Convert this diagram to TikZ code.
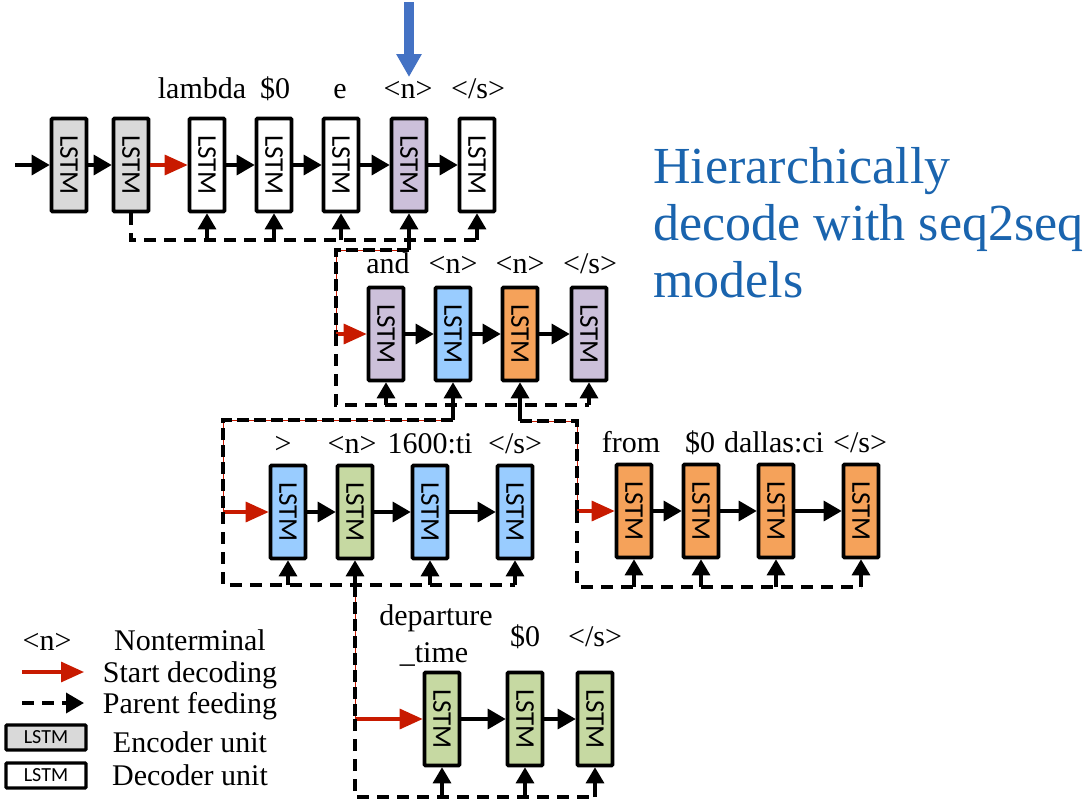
\documentclass[tikz,border=0pt]{standalone}
\usepackage{graphicx}
\usepackage{fontspec}
\setmainfont{Liberation Serif}
\newfontfamily\cellfont{Carlito}
\usetikzlibrary{arrows.meta}

\definecolor{encgray}{HTML}{D9D9D9}
\definecolor{ntpurple}{HTML}{CCC0DA}
\definecolor{ntblue}{HTML}{99CCFF}
\definecolor{ntorange}{HTML}{F5A25A}
\definecolor{ntgreen}{HTML}{C6D9A2}
\definecolor{startred}{HTML}{C81A00}
\definecolor{hintblue}{HTML}{4472C4}
\definecolor{titleblue}{HTML}{1A64AE}

\tikzset{
  cell/.style={draw=black, line width=3.6pt, fill=white, minimum width=35pt,
    minimum height=93pt, inner sep=0pt, rounded corners=1pt,
    font=\cellfont\fontsize{27}{27}\selectfont},
  legcell/.style={draw=black, line width=3.4pt, fill=white, minimum width=80pt,
    minimum height=25pt, inner sep=0pt, rounded corners=1pt,
    font=\cellfont\fontsize{20}{20}\selectfont},
  lab/.style={font=\fontsize{30}{34}\selectfont, inner sep=0pt, anchor=base},
  flow/.style={line width=3.2pt, -{Triangle[length=18pt,width=20pt]}},
  start/.style={draw=startred, line width=3.2pt,
    -{Triangle[length=23pt,width=20pt]}},
  feed/.style={line width=3.6pt, dash pattern=on 12pt off 8pt},
  up/.style={line width=3.2pt, -{Triangle[length=16pt,width=18pt]}},
  stripe/.style={line width=3.6pt, dash pattern=on 12pt off 5pt,
    preaction={draw=startred, solid}},
  hint/.style={draw=hintblue, line width=10pt,
    -{Triangle[length=23pt,width=24pt]}},
  title/.style={font=\fontsize{52}{57}\selectfont, text=titleblue,
    inner sep=0pt, anchor=base west},
}
\newcommand{\lstmv}{\rotatebox{-90}{LSTM}}

\begin{document}
\begin{tikzpicture}[x=1pt, y=-1pt]
\useasboundingbox (0,0) rectangle (1092,801);

% ---------- level 1: encoder + top-level decoder ----------
\node[cell, fill=encgray] (e1) at (69,165) {\lstmv};
\node[cell, fill=encgray] (e2) at (131,165) {\lstmv};
\node[cell] (d1) at (207,165) {\lstmv};
\node[cell] (d2) at (274,165) {\lstmv};
\node[cell] (d3) at (341,165) {\lstmv};
\node[cell, fill=ntpurple] (d4) at (409,165) {\lstmv};
\node[cell] (d5) at (477,165) {\lstmv};

\node[lab] (t11) at (202,98) {lambda};
\node[lab] (t12) at (275,98) {\$0};
\node[lab] (t13) at (340,98) {e};
\node[lab] (t14) at (408,98) {<n>};
\node[lab] (t15) at (478,98) {</s>};

\coordinate (in) at (15,165);
\draw[flow] (in) -- (e1);
\draw[flow] (e1) -- (e2);
\draw[start] (e2) -- (d1);
\draw[flow] (d1) -- (d2);
\draw[flow] (d2) -- (d3);
\draw[flow] (d3) -- (d4);
\draw[flow] (d4) -- (d5);

% hint arrow pointing at the expanded nonterminal
\coordinate (hs) at (409,2);
\coordinate (he) at (409,77);
\draw[hint] (hs) -- (he);

% parent feeding, level 1
\coordinate (f1a) at (131,240);
\coordinate (f1b) at (477,240);
\draw[feed] (e2.south) -- (f1a) -- (f1b);
\foreach \n in {d1,d2,d3,d5} \draw[up] (\n |- f1a) -- (\n.south);
\coordinate (k1) at (409,250);
\draw[up] (k1) -- (d4.south);

% ---------- level 2 ----------
\node[cell, fill=ntpurple] (a1) at (386,334) {\lstmv};
\node[cell, fill=ntblue] (a2) at (453,334) {\lstmv};
\node[cell, fill=ntorange] (a3) at (520,334) {\lstmv};
\node[cell, fill=ntpurple] (a4) at (589,334) {\lstmv};

\node[lab] (t21) at (388,273) {and};
\node[lab] (t22) at (453,273) {<n>};
\node[lab] (t23) at (520,273) {<n>};
\node[lab] (t24) at (590,273) {</s>};

\coordinate (k1b) at (336,250);
\coordinate (k1c) at (336,334);
\draw[stripe] (k1) -- (k1b) -- (k1c);
\draw[start] (k1c) -- (a1);
\draw[flow] (a1) -- (a2);
\draw[flow] (a2) -- (a3);
\draw[flow] (a3) -- (a4);

\coordinate (f2a) at (336,405);
\coordinate (f2b) at (589,405);
\draw[feed] (k1c) -- (f2a) -- (f2b);
\foreach \n in {a1,a4} \draw[up] (\n |- f2a) -- (\n.south);

% ---------- level 3, left branch ----------
\node[cell, fill=ntblue] (b1) at (288,512) {\lstmv};
\node[cell, fill=ntgreen] (b2) at (355,512) {\lstmv};
\node[cell, fill=ntblue] (b3) at (430,512) {\lstmv};
\node[cell, fill=ntblue] (b4) at (515,512) {\lstmv};

\node[lab] (t31) at (283,453) {>};
\node[lab] (t32) at (352,453) {<n>};
\node[lab] (t33) at (430,453) {1600:ti};
\node[lab] (t34) at (515,453) {</s>};

\coordinate (k2) at (453,420);
\coordinate (k2b) at (223,420);
\coordinate (k2c) at (223,512);
\draw[up] (k2) -- (a2.south);
\draw[stripe] (k2) -- (k2b) -- (k2c);
\draw[start] (k2c) -- (b1);
\draw[flow] (b1) -- (b2);
\draw[flow] (b2) -- (b3);
\draw[flow] (b3) -- (b4);

\coordinate (f3a) at (223,585);
\coordinate (f3b) at (515,585);
\draw[feed] (k2c) -- (f3a) -- (f3b);
\foreach \n in {b1,b3,b4} \draw[up] (\n |- f3a) -- (\n.south);

% ---------- level 3, right branch ----------
\node[cell, fill=ntorange] (c1) at (634,511) {\lstmv};
\node[cell, fill=ntorange] (c2) at (701,511) {\lstmv};
\node[cell, fill=ntorange] (c3) at (776,511) {\lstmv};
\node[cell, fill=ntorange] (c4) at (861,511) {\lstmv};

\node[lab] (t41) at (631,452) {from};
\node[lab] (t42) at (700,452) {\$0};
\node[lab] (t43) at (774,452) {dallas:ci};
\node[lab] (t44) at (860,452) {</s>};

\coordinate (k3) at (520,421);
\coordinate (k3b) at (577,421);
\coordinate (k3c) at (577,511);
\draw[up] (k3) -- (a3.south);
\draw[stripe] (k3) -- (k3b) -- (k3c);
\draw[start] (k3c) -- (c1);
\draw[flow] (c1) -- (c2);
\draw[flow] (c2) -- (c3);
\draw[flow] (c3) -- (c4);

\coordinate (f4a) at (577,587);
\coordinate (f4b) at (861,587);
\draw[feed] (k3c) -- (f4a) -- (f4b);
\foreach \n in {c1,c2,c3,c4} \draw[up] (\n |- f4a) -- (\n.south);

% ---------- level 4 ----------
\node[cell, fill=ntgreen] (g1) at (442,719) {\lstmv};
\node[cell, fill=ntgreen] (g2) at (525,719) {\lstmv};
\node[cell, fill=ntgreen] (g3) at (595,719) {\lstmv};

\node[lab] (t51) at (436,625) {departure};
\node[lab] (t52) at (434,662) {\_time};
\node[lab] (t53) at (525,646) {\$0};
\node[lab] (t54) at (595,646) {</s>};

\coordinate (k4) at (355,585);
\coordinate (k4c) at (355,719);
\draw[up] (k4) -- (b2.south);
\draw[stripe] (k4) -- (k4c);
\draw[start] (k4c) -- (g1);
\draw[flow] (g1) -- (g2);
\draw[flow] (g2) -- (g3);

\coordinate (f5a) at (355,797);
\coordinate (f5b) at (595,797);
\draw[feed] (k4c) -- (f5a) -- (f5b);
\foreach \n in {g1,g2,g3} \draw[up] (\n |- f5a) -- (\n.south);

% ---------- legend ----------
\node[lab] (l1) at (47,650) {<n>};
\node[lab] (l1t) at (190,650) {Nonterminal};
\coordinate (lr1) at (22,672);
\coordinate (lr2) at (84,672);
\draw[start] (lr1) -- (lr2);
\node[lab] (l2t) at (190,682) {Start decoding};
\coordinate (lf1) at (22,703);
\coordinate (lf2) at (84,703);
\draw[feed, -{Triangle[length=18pt,width=20pt]}] (lf1) -- (lf2);
\node[lab] (l3t) at (190,713) {Parent feeding};
\node[legcell, fill=encgray] (l4) at (46,737.5) {LSTM};
\node[lab] (l4t) at (190,752) {Encoder unit};
\node[legcell] (l5) at (46,775.5) {LSTM};
\node[lab] (l5t) at (190,785) {Decoder unit};

% ---------- caption ----------
\node[title] (h1) at (653,183) {Hierarchically};
\node[title] (h2) at (653,240) {decode with seq2seq};
\node[title] (h3) at (653,297) {models};
\end{tikzpicture}
\end{document}
